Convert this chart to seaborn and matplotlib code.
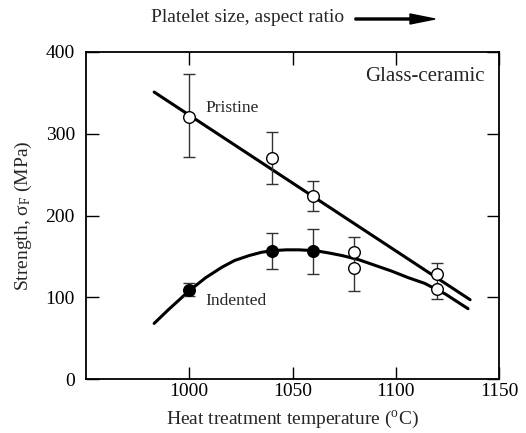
import matplotlib
matplotlib.use("Agg")
import matplotlib.pyplot as plt
import seaborn as sns
import pandas as pd

# ---- data ----
pristine_T = [1000, 1040, 1060, 1080, 1120]
pristine_S = [321, 270, 224, 155, 129]
pristine_lo = [272, 238, 205, 108, 98]
pristine_hi = [373, 302, 242, 174, 142]

indented_T = [1000, 1040, 1060, 1080, 1120]
indented_S = [109, 157, 156, 136, 110]
indented_lo = [101, 134, 128, 108, 98]
indented_hi = [118, 179, 183, 174, 142]
indented_filled = [True, True, True, False, False]

pristine_fit_T = [983, 1136]
pristine_fit_S = [351, 97]

indented_fit_T = [983, 990, 1000, 1008, 1016, 1022, 1029, 1035, 1040, 1047, 1053,
                  1061, 1068, 1074, 1082, 1090, 1098, 1106, 1114, 1124, 1135]
indented_fit_S = [68, 85, 108, 124, 137, 145, 151, 155, 157, 158, 158,
                  157, 154, 151, 146, 139, 132, 124, 117, 104, 86]

x_ticks = [1000, 1050, 1100, 1150]
y_ticks = [0, 100, 200, 300, 400]

# ---- style ----
sns.set_style("ticks")
plt.rcParams['font.family'] = ['Liberation Serif', 'DejaVu Serif']
plt.rcParams['mathtext.fontset'] = 'custom'
plt.rcParams['mathtext.rm'] = 'Liberation Serif'
plt.rcParams['mathtext.it'] = 'Liberation Serif:italic'

fig = plt.figure(figsize=(5.26, 4.33), dpi=100)
ax = fig.add_axes([86 / 526, (433 - 379) / 433, 413 / 526, 327 / 433])

fs = 14

pf = pd.DataFrame({"T": pristine_fit_T, "S": pristine_fit_S})
inf = pd.DataFrame({"T": indented_fit_T, "S": indented_fit_S})
sns.lineplot(data=pf, x="T", y="S", ax=ax, color="black", lw=2.2, sort=False, zorder=2)
sns.lineplot(data=inf, x="T", y="S", ax=ax, color="black", lw=2.2, sort=False, zorder=2)

for T, S, lo, hi in zip(pristine_T, pristine_S, pristine_lo, pristine_hi):
    ax.errorbar([T], [S], yerr=[[S - lo], [hi - S]], fmt="none", ecolor="#333333",
                elinewidth=1.0, capsize=4, capthick=1.0, zorder=3)
for T, S, lo, hi in zip(indented_T[:3], indented_S[:3], indented_lo[:3], indented_hi[:3]):
    ax.errorbar([T], [S], yerr=[[S - lo], [hi - S]], fmt="none", ecolor="#333333",
                elinewidth=1.0, capsize=4, capthick=1.0, zorder=3)

dp = pd.DataFrame({"T": pristine_T, "S": pristine_S})
sns.scatterplot(data=dp, x="T", y="S", ax=ax, marker="o", s=70, facecolor="white",
                edgecolor="black", linewidth=1.0, zorder=5)
di = pd.DataFrame({"T": indented_T, "S": indented_S, "filled": indented_filled})
sns.scatterplot(data=di[di["filled"]], x="T", y="S", ax=ax, marker="o", s=70,
                color="black", edgecolor="black", linewidth=1.0, zorder=5)
sns.scatterplot(data=di[~di["filled"]], x="T", y="S", ax=ax, marker="o", s=70,
                facecolor="white", edgecolor="black", linewidth=1.0, zorder=4)

ax.set_xlim(950, 1150)
ax.set_ylim(0, 400)
ax.set_xticks(x_ticks)
ax.set_yticks(y_ticks)
ax.tick_params(direction="in", length=9, width=1.0, top=True, right=True,
               labelsize=fs, colors="black")
ax.tick_params(axis="x", pad=3)
ax.tick_params(axis="y", pad=8)
for sp in ax.spines.values():
    sp.set_visible(True)
    sp.set_linewidth(1.3)
    sp.set_color("black")

ax.set_xlabel(r"Heat treatment temperature ($^{\rm o}$C)", fontsize=fs, labelpad=6)
ax.set_ylabel(r"Strength, $\mathrm{\sigma_F}$ (MPa)", fontsize=fs, labelpad=8)

ax.text(0.965, 0.925, "Glass-ceramic", transform=ax.transAxes, ha="right", va="center",
        fontsize=fs + 1)
ax.text(1008, 331, "Pristine", ha="left", va="center", fontsize=fs - 1.5)
ax.text(1008, 96, "Indented", ha="left", va="center", fontsize=fs - 1.5)

fig.text(151 / 526, 1 - 18 / 433, "Platelet size, aspect ratio", ha="left", va="center",
         fontsize=fs)
fig.patches.append(matplotlib.patches.FancyArrow(
    355 / 526, 1 - 19 / 433, 80 / 526, 0, width=2.0 / 433, head_width=10 / 433,
    head_length=25 / 526, length_includes_head=True, color="black",
    transform=fig.transFigure, figure=fig))

fig.savefig("out.png", dpi=100)
